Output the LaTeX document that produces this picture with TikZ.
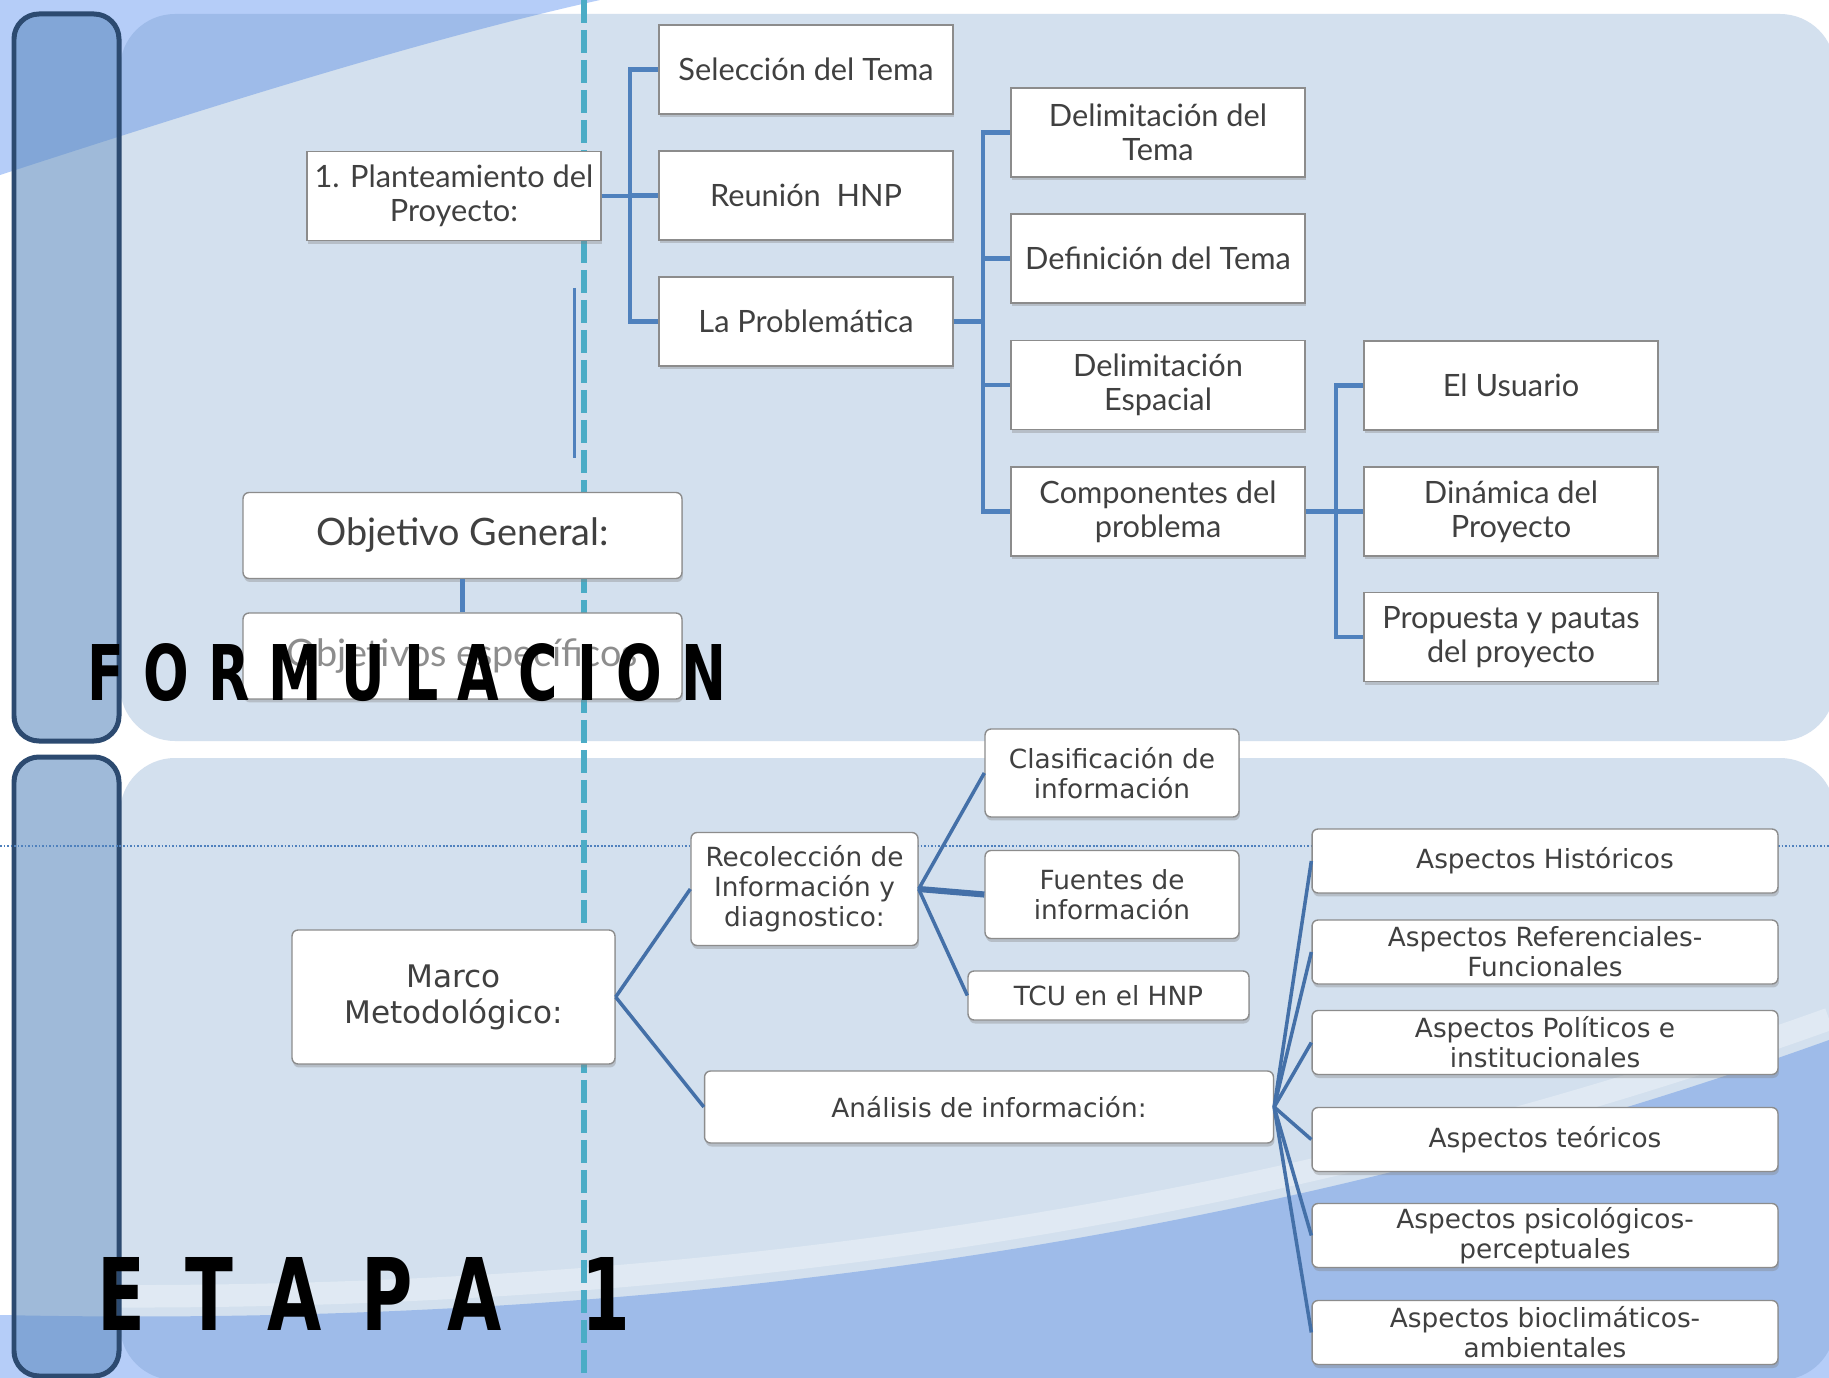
\documentclass[tikz,border=0pt]{standalone}
\usepackage{fontspec}
\usepackage{tikz}
\usetikzlibrary{shadows,positioning}
\newfontfamily\upfont{Lato}
\newfontfamily\lowfont{DejaVu Sans}
\newfontfamily\formfont[FakeStretch=0.7,LetterSpace=25]{DejaVu Sans}
\newfontfamily\etapafont[FakeStretch=0.7,LetterSpace=40]{DejaVu Sans}
\definecolor{panelblue}{HTML}{608DC1}
\definecolor{skyblue}{HTML}{B5CDF8}
\definecolor{barnavy}{HTML}{2C4A70}
\definecolor{dashteal}{HTML}{4BACC6}
\definecolor{lineblue}{HTML}{4F81BD}
\definecolor{lowblue}{HTML}{4470A8}
\definecolor{boxgray}{HTML}{8C8C8C}
\definecolor{txtgray}{HTML}{404040}
\tikzset{
  upbox/.style={draw=boxgray, line width=0.8pt, fill=white, text=txtgray, align=center,
    font=\upfont\fontsize{17.5}{19.5}\selectfont, minimum width=5.88cm, minimum height=1.78cm,
    inner sep=1pt, drop shadow={shadow xshift=0.02cm, shadow yshift=-0.07cm, opacity=0.35}},
  objbox/.style={upbox, rounded corners=0.12cm, minimum width=8.78cm, minimum height=1.72cm,
    font=\upfont\fontsize{21.5}{24}\selectfont},
  lowbox/.style={upbox, rounded corners=0.12cm, font=\lowfont\fontsize{15}{17}\selectfont},
  clasbox/.style={lowbox, minimum width=5.08cm, minimum height=1.76cm},
  aspbox/.style={lowbox, minimum width=9.32cm, minimum height=1.28cm},
  tree/.style={draw=lineblue, line width=2.3pt},
  link/.style={draw=lowblue, line width=2pt},
  stage/.style={inner sep=0pt, anchor=base west, text=black},
  panel/.style={fill=panelblue, fill opacity=0.27, rounded corners=1.1cm},
  sidebar/.style={fill=panelblue, fill opacity=0.6, draw=barnavy, line width=0.1cm, rounded corners=0.5cm},
}

\begin{document}
\begin{tikzpicture}[x=0.02cm, y=-0.02cm]
\useasboundingbox (0,0) rectangle (1829,1378);
\clip (0,0) rectangle (1829,1378);
% background
\fill[white] (0,0) rectangle (1829,1378);
\fill[skyblue] (0,0) -- (600,0) .. controls (420,40) and (200,110) .. (0,175) -- cycle;
\fill[skyblue] (0,1315) .. controls (700,1330) and (1300,1230) .. (1829,1040) -- (1829,1378) -- (0,1378) -- cycle;
\fill[panel] (120,14) rectangle (1835,741);
\fill[panel] (120,758) rectangle (1835,1380);
\draw[white, line width=0.45cm, opacity=0.3] (0,1295) .. controls (700,1309) and (1300,1209) .. (1829,1019);
\draw[sidebar] (14,14) rectangle (119,741);
\draw[sidebar] (14,757) rectangle (119,1376);
\draw[lineblue, line width=1pt, densely dotted] (0,846) -- (1829,846);
\draw[dashteal, line width=0.12cm, dash pattern=on 0.46cm off 0.14cm] (584,0) -- (584,1378);
\draw[lineblue, line width=1.7pt] (574,288) -- (574,458);

% formulacion
\node[upbox] (plant) at (454,196) {1. Planteamiento del\\Proyecto:};
\node[upbox] (selec) at (806,69.5) {Selección del Tema};
\node[upbox] (reun) at (806,195.5) {Reunión\ \ HNP};
\node[upbox] (probl) at (806,321.5) {La Problemática};
\node[upbox] (delim) at (1158,132.5) {Delimitación del\\Tema};
\node[upbox] (defin) at (1158,258.5) {Definición del Tema};
\node[upbox] (espac) at (1158,385) {Delimitación\\Espacial};
\node[upbox] (compo) at (1158,511.5) {Componentes del\\problema};
\node[upbox] (usuar) at (1511,385.5) {El Usuario};
\node[upbox] (dinam) at (1511,511.5) {Dinámica del\\Proyecto};
\node[upbox] (propu) at (1511,637) {Propuesta y pautas\\del proyecto};
\node[objbox] (objgen) at (462.5,535.5) {Objetivo General:};
\node[objbox, text=txtgray!60] (objesp) at (462.5,656) {Objetivos específicos};

\draw[tree] (plant.east) -- ++(28,0) |- (selec.west);
\draw[tree] (plant.east) -- ++(28,0) |- (reun.west);
\draw[tree] (plant.east) -- ++(28,0) |- (probl.west);
\draw[tree] (probl.east) -- ++(29,0) |- (delim.west);
\draw[tree] (probl.east) -- ++(29,0) |- (defin.west);
\draw[tree] (probl.east) -- ++(29,0) |- (espac.west);
\draw[tree] (probl.east) -- ++(29,0) |- (compo.west);
\draw[tree] (compo.east) -- ++(30,0) |- (usuar.west);
\draw[tree] (compo.east) -- ++(30,0) |- (dinam.west);
\draw[tree] (compo.east) -- ++(30,0) |- (propu.west);
\draw[tree] (objgen.south) -- (objesp.north);

% etapa 1
\node[lowbox, minimum width=6.46cm, minimum height=2.68cm, font=\lowfont\fontsize{17.7}{20.5}\selectfont] (marco) at (453.5,997) {Marco\\Metodológico:};
\node[lowbox, minimum width=4.54cm, minimum height=2.26cm] (recol) at (804.5,889) {Recolección de\\Información y\\diagnostico:};
\node[lowbox, minimum width=11.38cm, minimum height=1.44cm] (anali) at (989,1107) {Análisis de información:};
\node[clasbox] (clasi) at (1112,773) {Clasificación de\\información};
\node[clasbox] (fuent) at (1112,894.5) {Fuentes de\\información};
\node[lowbox, minimum width=5.62cm, minimum height=0.98cm] (tcu) at (1108.5,995.5) {TCU en el HNP};
\node[aspbox] (histo) at (1545,861) {Aspectos Históricos};
\node[aspbox] (refer) at (1545,952) {Aspectos Referenciales-\\Funcionales};
\node[aspbox] (polit) at (1545,1042.5) {Aspectos Políticos e\\institucionales};
\node[aspbox] (teori) at (1545,1139.5) {Aspectos teóricos};
\node[aspbox] (psico) at (1545,1235.5) {Aspectos psicológicos-\\perceptuales};
\node[aspbox] (biocl) at (1545,1332.5) {Aspectos bioclimáticos-\\ambientales};

\draw[link] (marco.east) -- (recol.west);
\draw[link] (marco.east) -- (anali.west);
\draw[link] (recol.east) -- (clasi.west);
\draw[link, line width=3.5pt] (recol.east) -- (fuent.west);
\draw[link] (recol.east) -- (tcu.west);
\draw[link] (anali.east) -- (histo.west);
\draw[link] (anali.east) -- (refer.west);
\draw[link] (anali.east) -- (polit.west);
\draw[link] (anali.east) -- (teori.west);
\draw[link] (anali.east) -- (psico.west);
\draw[link] (anali.east) -- (biocl.west);

\node[stage, font=\formfont\bfseries\fontsize{43.7}{44}\selectfont] (formul) at (87,700) {FORMULACION};
\node[stage, font=\etapafont\bfseries\fontsize{57}{58}\selectfont] (etapa) at (97,1330) {ETAPA\hspace{9pt} 1};
\end{tikzpicture}
\end{document}
